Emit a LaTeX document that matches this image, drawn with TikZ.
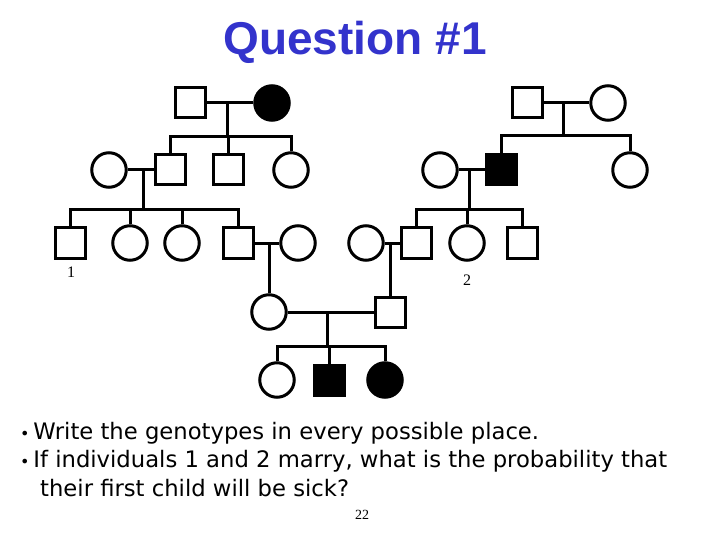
\documentclass[tikz,border=0pt]{standalone}
\usepackage{fontspec}
\setmainfont{Liberation Serif}
\newfontfamily\qtitle{Liberation Sans Bold}
\newfontfamily\qbody{DejaVu Sans}
\definecolor{qblue}{RGB}{51,51,204}

\tikzset{
  male/.style={draw, rectangle, minimum size=30pt, inner sep=0pt, line width=3pt},
  female/.style={draw, circle, minimum size=34.5pt, inner sep=0pt, line width=3pt},
  sick/.style={fill=black},
  tie/.style={line width=3pt},
  question/.style={anchor=base west, font=\qbody\fontsize{22.7}{28}\selectfont, inner sep=0pt},
}

\begin{document}
\begin{tikzpicture}[x=1pt,y=-1pt]
\useasboundingbox (0,0) rectangle (720,540);
\node[anchor=base, text=qblue, font=\qtitle\fontsize{46}{46}\selectfont] (title) at (355,55) {Question \#1};

% left branch
\node[male] (a1) at (190,103) {};
\node[female, sick] (a2) at (272,103) {};
\node[female] (b1) at (109,170) {};
\node[male] (b2) at (170,170) {};
\node[male] (b3) at (228,170) {};
\node[female] (b4) at (291,170) {};
\node[male] (c1) at (70,243) {};
\node[female] (c2) at (130,243) {};
\node[female] (c3) at (182,243) {};
\node[male] (c4) at (238,243) {};
\node[female] (c5) at (298,243) {};

% right branch
\node[male] (a3) at (527,103) {};
\node[female] (a4) at (608,103) {};
\node[female] (b5) at (440,170) {};
\node[male, sick] (b6) at (501,170) {};
\node[female] (b7) at (630,170) {};
\node[female] (c6) at (366,243) {};
\node[male] (c7) at (416,243) {};
\node[female] (c8) at (467,243) {};
\node[male] (c9) at (522,243) {};

% bottom
\node[female] (d1) at (269,312) {};
\node[male] (d2) at (390,312) {};
\node[female] (e1) at (277,380) {};
\node[male, sick] (e2) at (329,380) {};
\node[female, sick] (e3) at (385,380) {};

\node[font=\fontsize{16}{16}\selectfont] (one) at (71,272) {1};
\node[font=\fontsize{16}{16}\selectfont] (two) at (467,280) {2};

% junctions
\coordinate (m1) at (227,103); \coordinate (s1) at (227,137);
\coordinate (m2) at (143,170); \coordinate (s2) at (143,210);
\coordinate (m3) at (563,103); \coordinate (s3) at (563,136);
\coordinate (m4) at (469,170); \coordinate (s4) at (469,210);
\coordinate (m5) at (269,243);
\coordinate (m6) at (390,243);
\coordinate (m7) at (327,312); \coordinate (s7) at (327,346);

\draw[tie] (a1) -- (a2) (m1) -- (s1);
\draw[tie] (b2.north) |- (s1) -| (b4.north) (b3.north) -- (b3.north |- s1);
\draw[tie] (b1) -- (b2) (m2) -- (s2);
\draw[tie] (c1.north) |- (s2) -| (c4.north) (c2.north) -- (c2.north |- s2) (c3.north) -- (c3.north |- s2);
\draw[tie] (c4) -- (c5) (m5) -- (d1);

\draw[tie] (a3) -- (a4) (m3) -- (s3);
\draw[tie] (b6.north) |- (s3) -| (b7.north);
\draw[tie] (b5) -- (b6) (m4) -- (s4);
\draw[tie] (c7.north) |- (s4) -| (c9.north) (c8.north) -- (c8.north |- s4);
\draw[tie] (c6) -- (c7) (m6) -- (d2);

\draw[tie] (d1) -- (d2) (m7) -- (s7);
\draw[tie] (e1.north) |- (s7) -| (e3.north) (e2.north) -- (e2.north |- s7);

\node[question] (q1) at (20,439) {{\fontsize{16}{16}\selectfont•}\,Write the genotypes in every possible place.};
\node[question] (q2) at (20,467) {{\fontsize{16}{16}\selectfont•}\,If individuals 1 and 2 marry, what is the probability that};
\node[question] (q3) at (40,496) {their first child will be sick?};
\node[font=\fontsize{14}{14}\selectfont] (page) at (362,515) {22};
\end{tikzpicture}
\end{document}
